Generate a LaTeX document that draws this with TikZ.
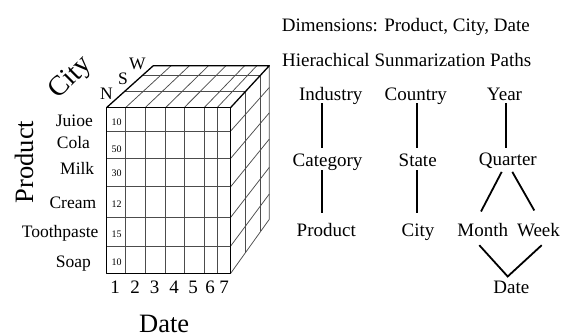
\documentclass[tikz,border=0pt]{standalone}
\usepackage{fontspec}
\setmainfont{Liberation Serif}
\usetikzlibrary{calc}
\tikzset{
  edgeline/.style={line width=1.3pt, black, line join=round, line cap=round},
  gridline/.style={line width=0.75pt, black!70},
  hline/.style={line width=1.8pt, black},
  hier/.style={inner sep=0pt, anchor=base, text height=13pt, text depth=0pt, font=\fontsize{19}{22}\selectfont},
  heading/.style={inner sep=0pt, anchor=base west, font=\fontsize{19}{22}\selectfont},
  prodlabel/.style={inner sep=0pt, anchor=base west, font=\fontsize{17.5}{20}\selectfont},
  cellnum/.style={inner sep=0pt, anchor=base west, font=\fontsize{10}{12}\selectfont},
  datenum/.style={inner sep=0pt, anchor=base, font=\fontsize{19}{22}\selectfont},
  citylabel/.style={inner sep=0pt, anchor=base west, font=\fontsize{17.5}{20}\selectfont},
  biglabel/.style={inner sep=0pt, font=\fontsize{26.5}{30}\selectfont},
}
\begin{document}
\begin{tikzpicture}[x=1pt,y=-1pt]
\useasboundingbox (0,0) rectangle (563,336);

% ---- cube corners
\coordinate (FL) at (106.7,107.5);
\coordinate (FR) at (230.7,107.5);
\coordinate (FRB) at (230.7,273.3);
\coordinate (FLB) at (106.7,273.3);
\coordinate (BL) at (153.3,65.7);
\coordinate (BR) at (269.3,65.7);
\coordinate (BRB) at (269.3,219.3);

% front face grid
\foreach \x in {125.7,145.3,165.7,184.3,204.3,217.3}
  \draw[gridline] (\x,107.5) -- (\x,273.3);
\foreach \y in {131,158.3,186.7,217.3,246}
  \draw[gridline] (106.7,\y) -- (230.7,\y);
% top face grid
\foreach \a/\b in {125.7/171.1,145.3/189.4,165.7/208.5,184.3/225.9,204.3/244.6,217.3/256.8}
  \draw[gridline] (\a,107.5) -- (\b,65.7);
\draw[gridline] (124.2,91.8) -- (245.2,91.8);
\draw[gridline] (142.9,75.1) -- (260.7,75.1);
% right face grid
\draw[gridline] (245.2,91.8) -- (245.2,253.05);
\draw[gridline] (260.7,75.1) -- (260.7,231.4);
\foreach \a/\b in {131/87.5,158.3/112.8,186.7/139.1,217.3/167.4,246/194.0}
  \draw[gridline] (230.7,\a) -- (269.3,\b);
\draw[gridline] (BR) -- (BRB) -- (FRB);
% outline
\draw[edgeline] (FL) rectangle (FRB);
\draw[edgeline] (FL) -- (BL) -- (BR) -- (FR);

% cell numbers
\node[cellnum] (n1) at (111.5,126) {10};
\node[cellnum] (n2) at (111.5,152.7) {50};
\node[cellnum] (n3) at (111.5,176.7) {30};
\node[cellnum] (n4) at (111.5,207.7) {12};
\node[cellnum] (n5) at (111.5,237.3) {15};
\node[cellnum] (n6) at (111.5,265.7) {10};

% product labels
\node[prodlabel] (p1) at (55.7,126.7) {Juioe};
\node[prodlabel] (p2) at (56.7,149) {Cola};
\node[prodlabel] (p3) at (60,175) {Milk};
\node[prodlabel] (p4) at (49.3,208.3) {Cream};
\node[prodlabel] (p5) at (21.7,237.3) {Toothpaste};
\node[prodlabel] (p6) at (55.7,267.3) {Soap};

% date numbers
\foreach \x/\t [count=\i] in {115/1,135/2,154.5/3,174/4,193/5,210/6,224/7}
  \node[datenum] (d\i) at (\x,293.3) {\t};

% city labels
\node[citylabel] (cN) at (100,100) {N};
\node[citylabel] (cS) at (118,85) {S};
\node[citylabel] (cW) at (129,70) {W};

% axis labels
\node[biglabel, rotate=45, font=\fontsize{28}{32}\selectfont] (axcity) at (71,78.5) {City};
\node[biglabel, rotate=90, anchor=base west] (axprod) at (33,203.3) {Product};
\node[biglabel, anchor=base] (axdate) at (164.2,332.5) {Date};

% headings
\node[heading] (h1) at (281.7,31.5) {Dimensions: Product, City, Date};
\node[heading] (h2) at (282,66.7) {Hierachical Sunmarization Paths};

% hierarchy nodes
\node[hier] (ind) at (330.8,100.7) {Industry};
\node[hier] (cat) at (327.5,166.7) {Category};
\node[hier] (prd) at (326.3,236.7) {Product};
\node[hier] (cou) at (415.8,100.7) {Country};
\node[hier] (sta) at (417.7,166.7) {State};
\node[hier] (cty) at (418,236.7) {City};
\node[hier] (yea) at (504.5,100.7) {Year};
\node[hier] (qua) at (507.8,165.7) {Quarter};
\node[hier] (mon) at (482.8,236.7) {Month};
\node[hier] (wee) at (538.5,236.7) {Week};
\node[hier] (dat) at (511.3,294) {Date};

% hierarchy connectors
\draw[hline] ($(ind.south)+(-9.1,2.3)$) -- ($(cat.north)+(-5.8,-5.7)$);
\draw[hline] ($(cat.south)+(-5.8,3.3)$) -- ($(prd.north)+(-4.6,-10.4)$);
\draw[hline] ($(cou.south)+(1.5,2.3)$) -- ($(sta.north)+(-0.4,-5.7)$);
\draw[hline] ($(sta.south)+(-0.4,3.3)$) -- ($(cty.north)+(-0.7,-10.4)$);
\draw[hline] ($(yea.south)+(1.5,2.3)$) -- ($(qua.north)+(-1.8,-4.7)$);
\draw[hline] ($(qua.south)+(-6.1,6)$) -- ($(mon.north)+(-1.8,-12)$);
\draw[hline] ($(qua.south)+(4.5,6)$) -- ($(wee.north)+(-4.2,-13)$);
\draw[hline, line join=miter] ($(mon.south)+(-3.5,8.3)$) -- ($(dat.north)+(-3.6,-4.3)$) -- ($(wee.south)+(3.2,8.3)$);
\end{tikzpicture}
\end{document}
